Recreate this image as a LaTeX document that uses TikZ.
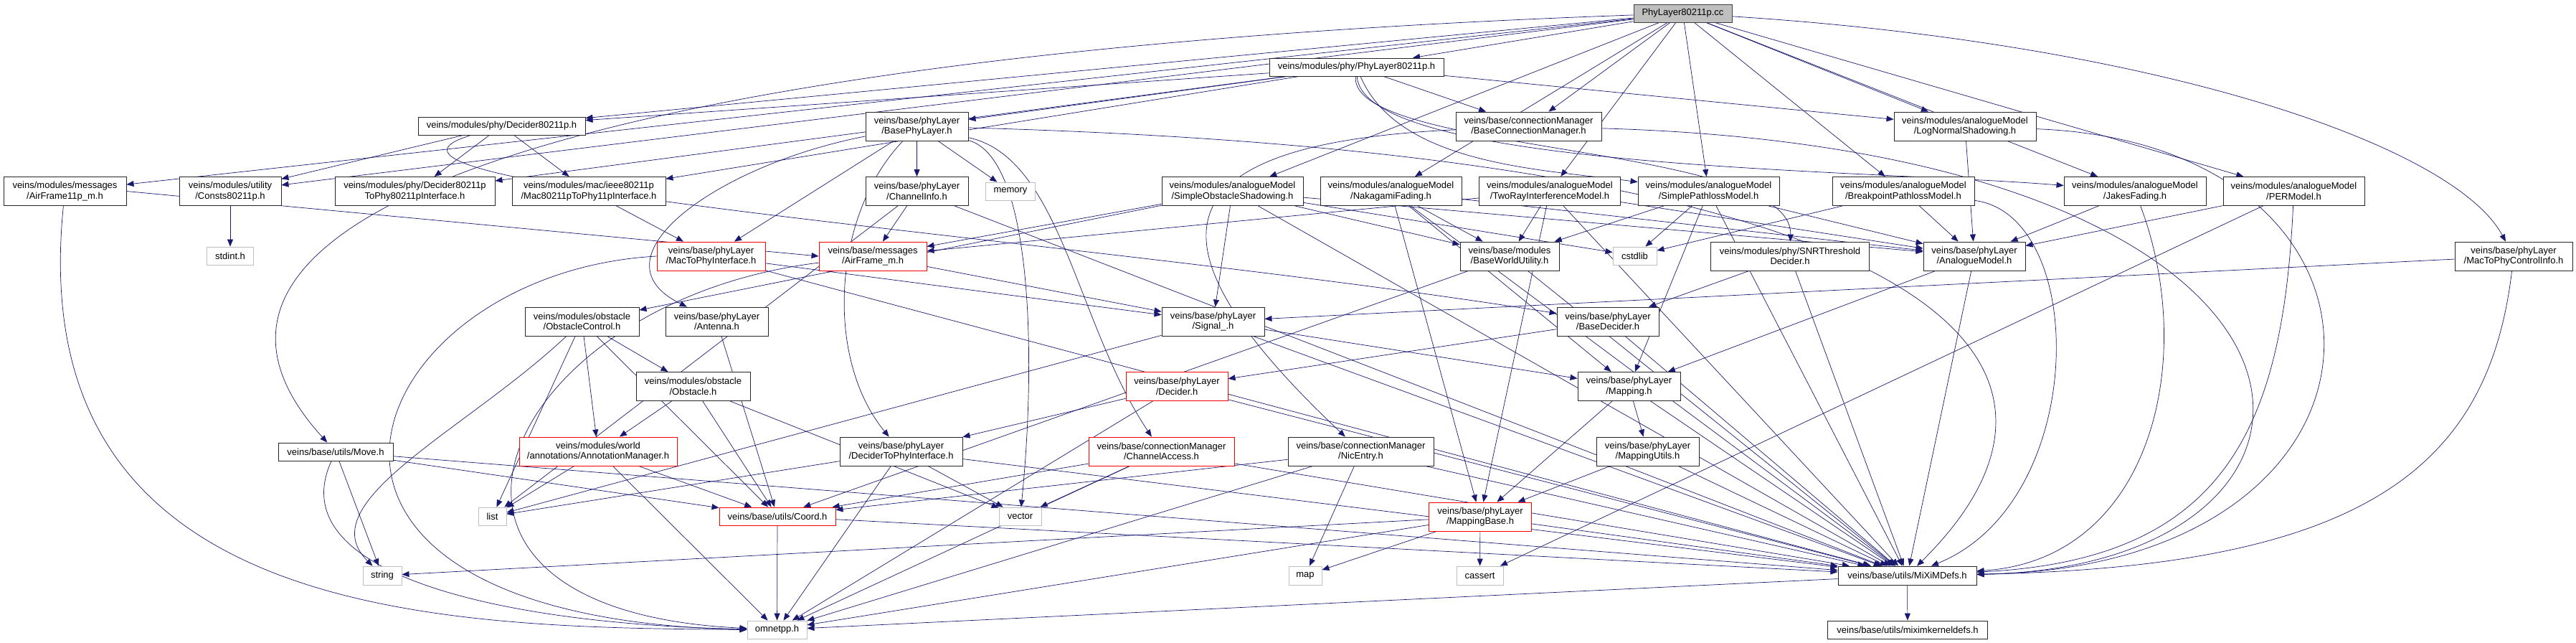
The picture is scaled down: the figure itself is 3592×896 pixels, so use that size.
\documentclass[tikz,border=0pt]{standalone}
\usepackage{fontspec}
\setmainfont{Liberation Sans}
\usetikzlibrary{arrows.meta}
\definecolor{edgeblue}{RGB}{25,25,112}
\definecolor{sysgray}{RGB}{191,191,191}
\definecolor{rootgray}{RGB}{191,191,191}
\pgfdeclarelayer{background}
\pgfsetlayers{background,main}

\begin{document}
\begin{tikzpicture}[x=1pt, y=-1pt,
    font=\fontsize{13}{14.5}\selectfont,
    hdr/.style={rectangle, draw=black!85, line width=0.9pt, fill=white, inner sep=0pt, align=center},
    redhdr/.style={hdr, draw=red},
    syshdr/.style={hdr, draw=sysgray},
    roothdr/.style={hdr, draw=black!75, fill=rootgray},
    sz/.style 2 args={minimum width=#1pt, minimum height=#2pt},
    incl/.style={draw=edgeblue, line width=0.7pt, -{Stealth[length=10pt, width=8pt, inset=0pt]}}]

\useasboundingbox (0,0) rectangle (3592,896);

% rows of the include graph
\node[roothdr, sz={137}{25}] (cc) at (2346.5,18.5) {PhyLayer80211p.cc};
\node[hdr, sz={243}{25}] (phyh) at (1891.5,93.5) {veins/modules/phy/PhyLayer80211p.h};
\node[hdr, sz={233}{25}] (dec11p) at (699.5,175.5) {veins/modules/phy/Decider80211p.h};
\node[hdr, sz={143}{40}] (basephy) at (1278.5,176) {veins/base/phyLayer\\/BasePhyLayer.h};
\node[hdr, sz={203}{40}] (bcm) at (2131.5,176) {veins/base/connectionManager\\/BaseConnectionManager.h};
\node[hdr, sz={198}{40}] (lognormal) at (2740,176) {veins/modules/analogueModel\\/LogNormalShadowing.h};

\node[hdr, sz={171}{40}] (airframe11p) at (90.5,266.5) {veins/modules/messages\\/AirFrame11p\_m.h};
\node[hdr, sz={142}{40}] (consts) at (321,266.5) {veins/modules/utility\\/Consts80211p.h};
\node[hdr, sz={223}{40}] (dectophy11p) at (578.5,266.5) {veins/modules/phy/Decider80211p\\ToPhy80211pInterface.h};
\node[hdr, sz={214}{40}] (mac11p) at (821,266.5) {veins/modules/mac/ieee80211p\\/Mac80211pToPhy11pInterface.h};
\node[hdr, sz={143}{40}] (chinfo) at (1278.5,266.5) {veins/base/phyLayer\\/ChannelInfo.h};
\node[syshdr, sz={69}{25}] (memory) at (1409,266.5) {memory};
\node[hdr, sz={197}{40}] (sos) at (1718.5,266.5) {veins/modules/analogueModel\\/SimpleObstacleShadowing.h};
\node[hdr, sz={197}{40}] (nakagami) at (1939.5,266.5) {veins/modules/analogueModel\\/NakagamiFading.h};
\node[hdr, sz={197}{40}] (tworay) at (2161,266.5) {veins/modules/analogueModel\\/TwoRayInterferenceModel.h};
\node[hdr, sz={197}{40}] (simplepl) at (2382.5,266.5) {veins/modules/analogueModel\\/SimplePathlossModel.h};
\node[hdr, sz={198}{40}] (breakpoint) at (2654,266.5) {veins/modules/analogueModel\\/BreakpointPathlossModel.h};
\node[hdr, sz={198}{40}] (jakes) at (2977,266.5) {veins/modules/analogueModel\\/JakesFading.h};
\node[hdr, sz={197}{40}] (permodel) at (3198.5,266.5) {veins/modules/analogueModel\\/PERModel.h};

\node[syshdr, sz={65}{25}] (stdint) at (321,356.5) {stdint.h};
\node[redhdr, sz={151}{40}] (mactophy) at (991.5,357) {veins/base/phyLayer\\/MacToPhyInterface.h};
\node[redhdr, sz={150}{40}] (airframe) at (1217,357) {veins/base/messages\\/AirFrame\_m.h};
\node[hdr, sz={138}{40}] (bwu) at (2105,357) {veins/base/modules\\/BaseWorldUtility.h};
\node[syshdr, sz={61}{25}] (cstdlib) at (2279.5,356.5) {cstdlib};
\node[hdr, sz={221}{40}] (snr) at (2496,357) {veins/modules/phy/SNRThreshold\\Decider.h};
\node[hdr, sz={142}{40}] (analogue) at (2753,357) {veins/base/phyLayer\\/AnalogueModel.h};
\node[hdr, sz={164}{40}] (macctrl) at (3505,357) {veins/base/phyLayer\\/MacToPhyControlInfo.h};

\node[hdr, sz={159}{40}] (obstctrl) at (811.5,448) {veins/modules/obstacle\\/ObstacleControl.h};
\node[hdr, sz={143}{40}] (antenna) at (999.5,448) {veins/base/phyLayer\\/Antenna.h};
\node[hdr, sz={143}{40}] (signal) at (1691.5,448) {veins/base/phyLayer\\/Signal\_.h};
\node[hdr, sz={142}{40}] (basedec) at (2242,448) {veins/base/phyLayer\\/BaseDecider.h};

\node[hdr, sz={159}{40}] (obstacle) at (966.5,538.5) {veins/modules/obstacle\\/Obstacle.h};
\node[redhdr, sz={142}{40}] (decider) at (1641,538.5) {veins/base/phyLayer\\/Decider.h};
\node[hdr, sz={143}{40}] (mapping) at (2271.5,538.5) {veins/base/phyLayer\\/Mapping.h};

\node[hdr, sz={160}{25}] (move) at (468,629.5) {veins/base/utils/Move.h};
\node[redhdr, sz={220}{40}] (annot) at (834,629) {veins/modules/world\\/annotations/AnnotationManager.h};
\node[hdr, sz={171}{40}] (dectophy) at (1256.5,629) {veins/base/phyLayer\\/DeciderToPhyInterface.h};
\node[redhdr, sz={203}{40}] (chaccess) at (1619.5,629) {veins/base/connectionManager\\/ChannelAccess.h};
\node[hdr, sz={203}{40}] (nicentry) at (1897.5,629) {veins/base/connectionManager\\/NicEntry.h};
\node[hdr, sz={143}{40}] (mapputils) at (2297.5,629) {veins/base/phyLayer\\/MappingUtils.h};

\node[syshdr, sz={39}{25}] (list) at (686.5,719.5) {list};
\node[redhdr, sz={162}{25}] (coord) at (1084,719.5) {veins/base/utils/Coord.h};
\node[syshdr, sz={59}{25}] (vector) at (1422.5,719.5) {vector};
\node[redhdr, sz={143}{40}] (mappingbase) at (2064,720) {veins/base/phyLayer\\/MappingBase.h};

\node[syshdr, sz={54}{26}] (string) at (533,802) {string};
\node[syshdr, sz={46}{26}] (map) at (1820,802) {map};
\node[syshdr, sz={65}{26}] (cassert) at (2063.5,802) {cassert};
\node[hdr, sz={193}{26}] (mixim) at (2659.5,802) {veins/base/utils/MiXiMDefs.h};

\node[syshdr, sz={83}{25}] (omnetpp) at (1083.5,877.5) {omnetpp.h};
\node[hdr, sz={223}{25}] (kernel) at (2660,877.5) {veins/base/utils/miximkerneldefs.h};

\begin{pgfonlayer}{background}
% PhyLayer80211p.cc
\draw[incl] (cc) -- (phyh);
\draw[incl] (cc) -- (dec11p);
\draw[incl] (cc) -- (consts);
\draw[incl] (cc) -- (airframe11p);
\draw[incl] (cc) .. controls (900,70) and (150,280) .. (move);
\draw[incl] (cc) -- (bcm);
\draw[incl] (cc) -- (sos);
\draw[incl] (cc) -- (nakagami);
\draw[incl] (cc) -- (tworay);
\draw[incl] (cc) -- (simplepl);
\draw[incl] (cc) -- (lognormal);
\draw[incl] (cc) -- (breakpoint);
\draw[incl] (cc) -- (jakes);
\draw[incl] (cc) -- (permodel);
\draw[incl] (cc) .. controls (3000,60) and (3420,200) .. (macctrl);
% PhyLayer80211p.h
\draw[incl] (phyh) -- (dec11p);
\draw[incl] (phyh) -- (dectophy11p);
\draw[incl] (phyh) -- (mac11p);
\draw[incl] (phyh) -- (basephy);
\draw[incl] (phyh) -- (bcm);
\draw[incl] (phyh) .. controls (1950,230) and (2150,236) .. (simplepl);
\draw[incl] (phyh) -- (lognormal);
\draw[incl] (phyh) .. controls (1900,236) and (2600,236) .. (jakes);
\draw[incl] (phyh) .. controls (1880,215) and (2500,200) .. (snr);
% Decider80211p.h
\draw[incl] (dec11p) -- (consts);
\draw[incl] (dec11p) -- (dectophy11p);
\draw[incl] (dec11p) -- (mac11p);
\draw[incl] (dec11p) .. controls (420,260) and (1500,330) .. (basedec);
% BasePhyLayer.h
\draw[incl] (basephy) -- (chinfo);
\draw[incl] (basephy) -- (memory);
\draw[incl] (basephy) -- (mactophy);
\draw[incl] (basephy) .. controls (1000,230) and (820,360) .. (antenna);
\draw[incl] (basephy) .. controls (1160,300) and (1150,500) .. (dectophy);
\draw[incl] (basephy) .. controls (1480,220) and (1500,450) .. (chaccess);
\draw[incl] (basephy) .. controls (1440,220) and (1445,500) .. (vector);
\draw[incl] (basephy) .. controls (2700,215) and (2965,500) .. (mixim);
% ChannelInfo.h
\draw[incl] (chinfo) -- (airframe);
\draw[incl] (chinfo) -- (list);
\draw[incl] (chinfo) -- (mixim);
% messages and interfaces
\draw[incl] (mac11p) -- (mactophy);
\draw[incl] (consts) -- (stdint);
\draw[incl] (airframe11p.east) -- (airframe.west);
\draw[incl] (airframe11p) .. controls (30,860) and (600,875) .. (omnetpp);
\draw[incl] (mactophy) -- (signal);
\draw[incl] (mactophy.west) .. controls (500,380) and (300,860) .. (omnetpp.west);
\draw[incl] (mactophy) -- (mixim);
\draw[incl] (airframe) -- (signal);
\draw[incl] (airframe) .. controls (700,420) and (500,850) .. (omnetpp);
% analogue models
\draw[incl] (sos) -- (airframe);
\draw[incl] (sos) -- (obstctrl);
\draw[incl] (sos) -- (signal);
\draw[incl] (sos) -- (bwu);
\draw[incl] (sos) -- (cstdlib);
\draw[incl] (sos) -- (analogue);
\draw[incl] (sos) -- (mixim);
\draw[incl] (nakagami) -- (bwu);
\draw[incl] (nakagami) -- (analogue);
\draw[incl] (nakagami) -- (mapping);
\draw[incl] (nakagami) -- (mappingbase);
\draw[incl] (nakagami) -- (mixim);
\draw[incl] (tworay) -- (airframe);
\draw[incl] (tworay) -- (bwu);
\draw[incl] (tworay) -- (analogue);
\draw[incl] (tworay) -- (mappingbase);
\draw[incl] (tworay) -- (mixim);
\draw[incl] (simplepl) -- (bwu);
\draw[incl] (simplepl) -- (cstdlib);
\draw[incl] (simplepl) -- (analogue);
\draw[incl] (simplepl) -- (mapping);
\draw[incl] (simplepl) -- (mixim);
\draw[incl] (breakpoint) -- (cstdlib);
\draw[incl] (breakpoint) -- (analogue);
\draw[incl] (breakpoint) .. controls (2913,300) and (2913,700) .. (mixim);
\draw[incl] (lognormal) -- (analogue);
\draw[incl] (lognormal) .. controls (3386,200) and (3386,790) .. (mixim);
\draw[incl] (jakes) -- (analogue);
\draw[incl] (jakes) .. controls (3065,500) and (3000,780) .. (mixim);
\draw[incl] (permodel) -- (analogue);
\draw[incl] (permodel) -- (cassert);
\draw[incl] (permodel) .. controls (3183,600) and (3100,780) .. (mixim);
\draw[incl] (macctrl) -- (signal);
\draw[incl] (macctrl) .. controls (3470,650) and (3300,790) .. (mixim);
% deciders and connection manager
\draw[incl] (snr) -- (basedec);
\draw[incl] (snr) -- (mixim);
\draw[incl] (bcm) .. controls (1620,200) and (1580,330) .. (nicentry);
\draw[incl] (bcm) .. controls (3334,210) and (3334,790) .. (mixim);
\draw[incl] (bwu) -- (coord);
\draw[incl] (bwu) -- (mixim);
\draw[incl] (analogue) -- (mapping);
\draw[incl] (analogue) -- (mixim);
\draw[incl] (basedec) -- (decider);
\draw[incl] (basedec) -- (mixim);
\draw[incl] (decider) -- (dectophy);
\draw[incl] (decider) -- (mixim);
\draw[incl] (decider) -- (omnetpp);
\draw[incl] (signal) -- (mapping);
\draw[incl] (signal) -- (list);
\draw[incl] (signal) -- (mixim);
% mapping
\draw[incl] (mapping) -- (mapputils);
\draw[incl] (mapping) -- (mappingbase);
\draw[incl] (mapping) -- (mixim);
\draw[incl] (mapputils) -- (mappingbase);
\draw[incl] (mapputils) -- (mixim);
\draw[incl] (mappingbase) -- (map);
\draw[incl] (mappingbase) -- (cassert);
\draw[incl] (mappingbase) -- (string);
\draw[incl] (mappingbase) -- (mixim);
\draw[incl] (mappingbase) -- (omnetpp);
\draw[incl] (nicentry) -- (map);
\draw[incl] (nicentry) -- (coord);
\draw[incl] (nicentry) -- (mixim);
\draw[incl] (nicentry) -- (omnetpp);
\draw[incl] (chaccess) -- (vector);
\draw[incl] (chaccess) -- (coord);
\draw[incl] (chaccess) -- (mixim);
\draw[incl] (chaccess) -- (omnetpp);
\draw[incl] (dectophy) -- (list);
\draw[incl] (dectophy) -- (vector);
\draw[incl] (dectophy) -- (mixim);
\draw[incl] (dectophy) -- (omnetpp);
% obstacles and utils
\draw[incl] (obstctrl) -- (obstacle);
\draw[incl] (obstctrl) -- (annot);
\draw[incl] (obstctrl) -- (list);
\draw[incl] (obstctrl) -- (coord);
\draw[incl] (obstctrl) .. controls (650,600) and (430,700) .. (string);
\draw[incl] (obstacle) -- (annot);
\draw[incl] (obstacle) -- (coord);
\draw[incl] (obstacle) -- (vector);
\draw[incl] (annot) -- (list);
\draw[incl] (annot) -- (coord);
\draw[incl] (annot) -- (omnetpp);
\draw[incl] (antenna) -- (coord);
\draw[incl] (move) -- (coord);
\draw[incl] (move) -- (string);
\draw[incl] (move) .. controls (390,800) and (700,870) .. (omnetpp);
\draw[incl] (move) -- (mixim);
\draw[incl] (coord) -- (omnetpp);
\draw[incl] (coord) -- (mixim);
\draw[incl] (mixim) -- (omnetpp);
\draw[incl] (mixim) -- (kernel);
\end{pgfonlayer}
\end{tikzpicture}
\end{document}
